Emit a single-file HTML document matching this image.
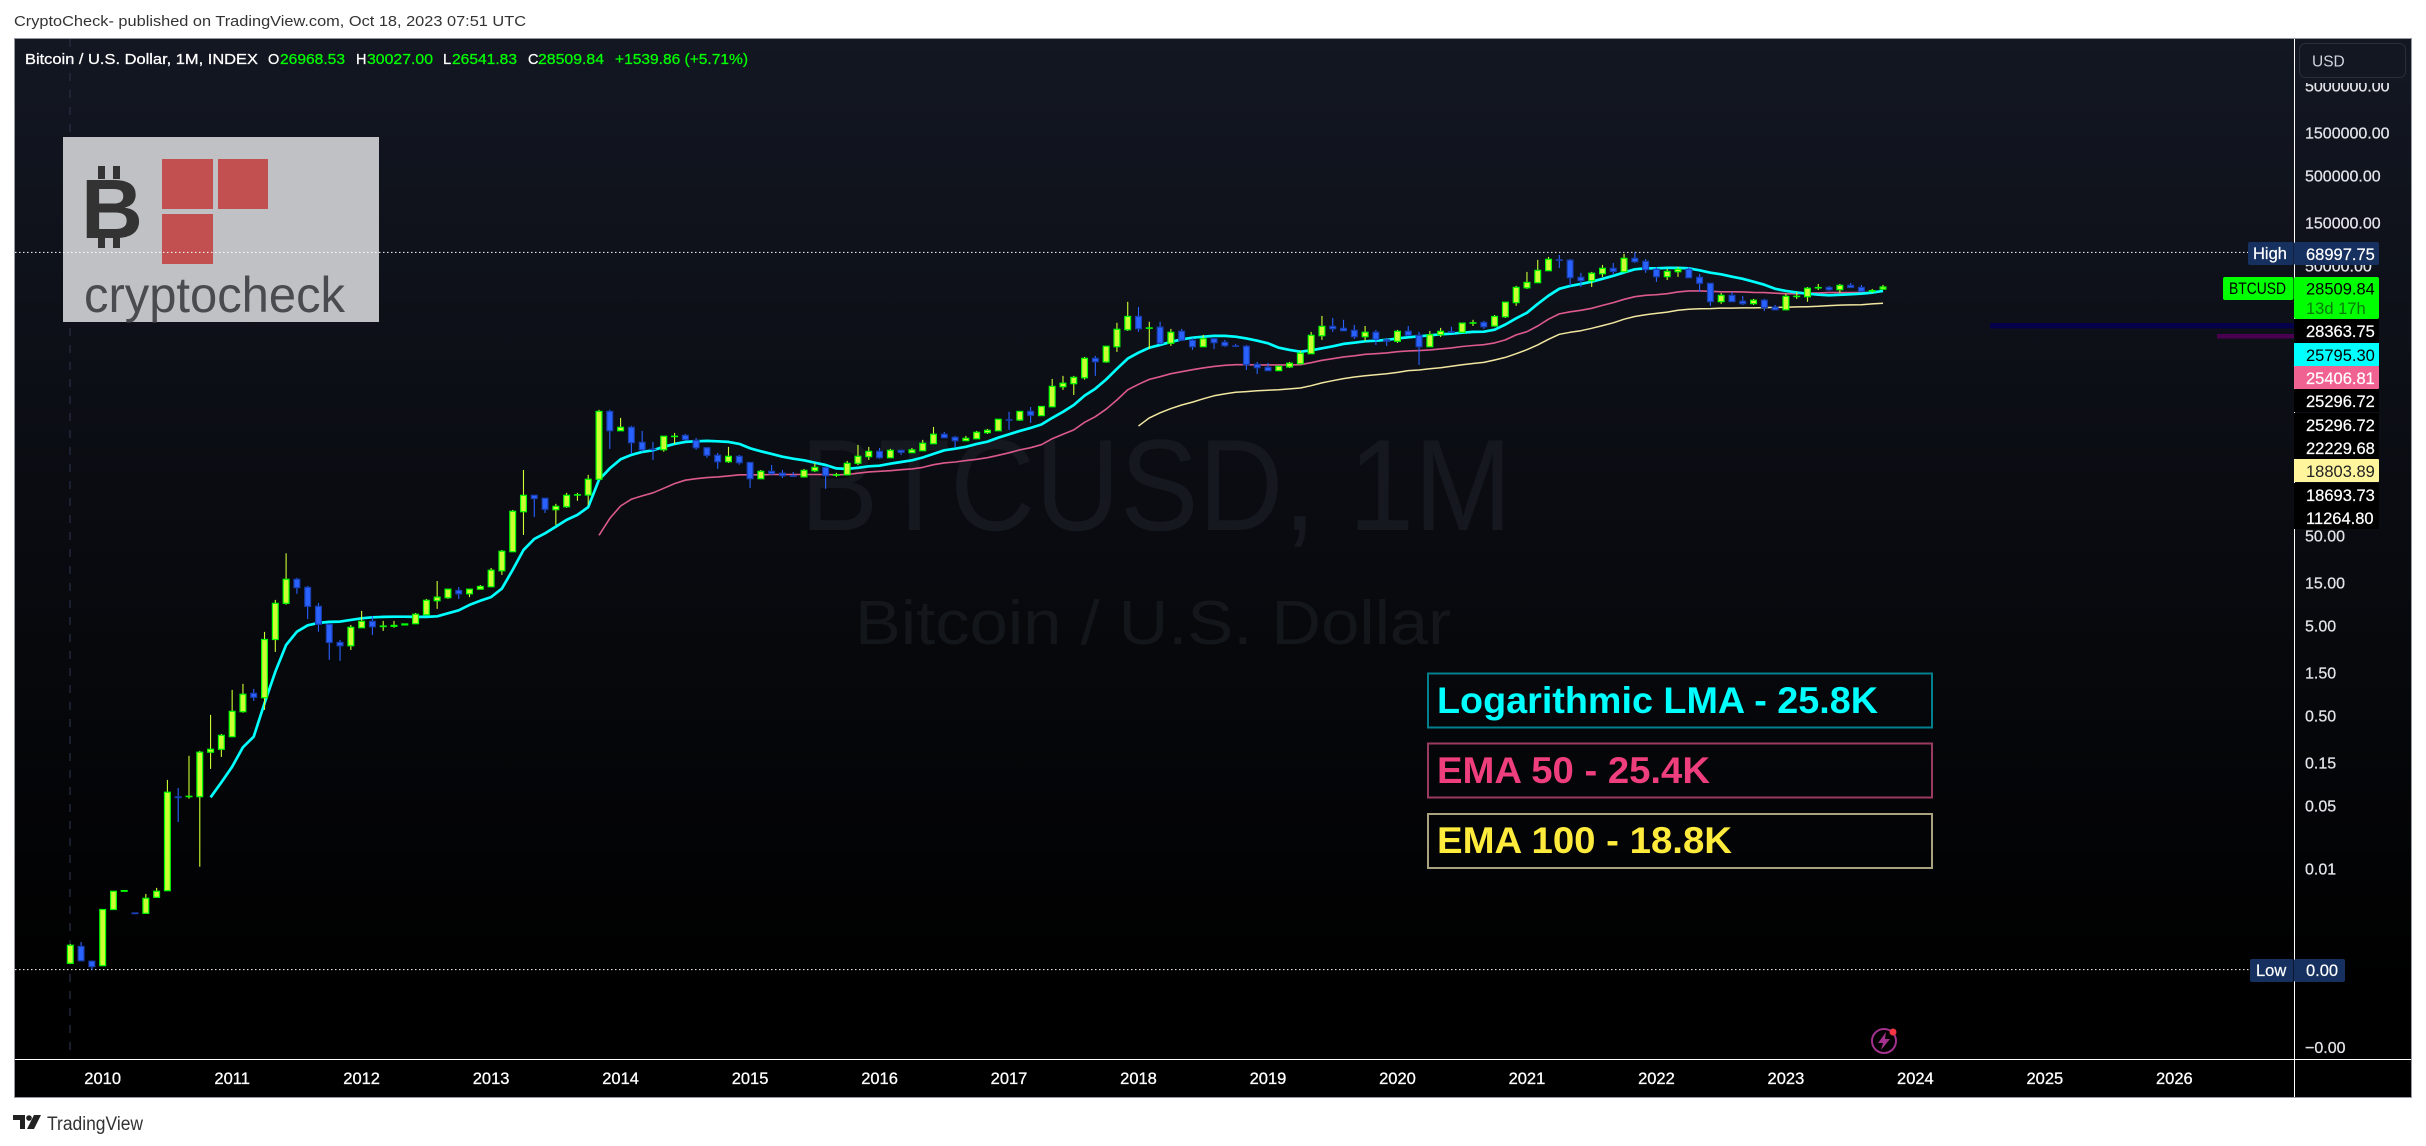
<!DOCTYPE html>
<html lang="en">
<head>
<meta charset="utf-8">
<title>Bitcoin / U.S. Dollar, 1M chart</title>
<style>
html,body{margin:0;padding:0;background:#fff;width:2426px;height:1146px;overflow:hidden}
svg{display:block}
text{font-family:"Liberation Sans",sans-serif}
.ax{font-size:16px;fill:#e4e5ea;stroke:#e4e5ea;stroke-width:.25}
.lb{font-size:16.5px;fill:#fff;stroke:#fff;stroke-width:.2}
.ohlc{font-size:14.5px;stroke-width:.25}
</style>
</head>
<body>
<svg id="chart" xmlns="http://www.w3.org/2000/svg" width="2426" height="1146" viewBox="0 0 2426 1146">
<defs>
<linearGradient id="bgGrad" x1="0" y1="0" x2="0" y2="1">
<stop offset="0" stop-color="#131722"/>
<stop offset="0.9" stop-color="#000"/>
<stop offset="1" stop-color="#000"/>
</linearGradient>
</defs>
<rect x="0" y="0" width="2426" height="1146" fill="#fff"/>
<text x="14" y="26" font-size="14.5" fill="#333" textLength="512" lengthAdjust="spacingAndGlyphs">CryptoCheck- published on TradingView.com, Oct 18, 2023 07:51 UTC</text>
<rect x="14.5" y="38.5" width="2397" height="1059" fill="url(#bgGrad)" stroke="#9598a1" stroke-width="1"/>

<g>
<text x="800" y="530" font-size="130" fill="#15181e" textLength="712" lengthAdjust="spacingAndGlyphs">BTCUSD, 1M</text>
<text x="855" y="644" font-size="62" fill="#13161b" textLength="596" lengthAdjust="spacingAndGlyphs">Bitcoin / U.S. Dollar</text>
</g>

<line x1="70" y1="39" x2="70" y2="1050" stroke="#2a2e45" stroke-width="1.2" stroke-dasharray="8 9"/>

<g>
<rect x="63" y="137" width="316" height="185" fill="#c0c1c4"/>
<rect x="98" y="166" width="7" height="13" fill="#333"/>
<rect x="113" y="166" width="7" height="13" fill="#333"/>
<rect x="98" y="236" width="7" height="12" fill="#333"/>
<rect x="113" y="236" width="7" height="12" fill="#333"/>
<text x="81" y="238" font-size="84" font-weight="700" fill="#333" textLength="62" lengthAdjust="spacingAndGlyphs">B</text>
<rect x="162" y="159" width="51" height="50" fill="#c25050"/>
<rect x="218" y="159" width="50" height="50" fill="#c25050"/>
<rect x="162" y="214" width="51" height="50" fill="#c25050"/>
<text x="84" y="312" font-size="50" fill="#4a4b50" textLength="261" lengthAdjust="spacingAndGlyphs">cryptocheck</text>
</g>

<line id="highLine" x1="15" x2="2248" stroke="#fff" stroke-width="1" stroke-dasharray="1.5 2.5"/>
<line id="lowLine" x1="15" x2="2250" stroke="#fff" stroke-width="1" stroke-dasharray="1.5 2.5"/>

<g id="lines"></g>
<g id="candles"></g>

<rect x="1990" y="323" width="304" height="5.5" fill="#05004a"/>
<rect x="2217" y="334" width="77" height="4.5" fill="#4a0050"/>

<g>
<rect x="1428" y="673.5" width="504" height="54" fill="none" stroke="#00808f" stroke-width="2"/>
<text x="1437" y="713" font-size="37" font-weight="700" fill="#00ffff" textLength="441" lengthAdjust="spacingAndGlyphs">Logarithmic LMA - 25.8K</text>
<rect x="1428" y="743.5" width="504" height="54" fill="none" stroke="#9a3a5f" stroke-width="2"/>
<text x="1437" y="783" font-size="37" font-weight="700" fill="#ef3e7c" textLength="273" lengthAdjust="spacingAndGlyphs">EMA 50 - 25.4K</text>
<rect x="1428" y="814" width="504" height="54" fill="none" stroke="#a8a27e" stroke-width="2"/>
<text x="1437" y="853" font-size="37" font-weight="700" fill="#ffeb3b" textLength="295" lengthAdjust="spacingAndGlyphs">EMA 100 - 18.8K</text>
</g>

<g>
<text class="ohlc" x="25" y="64" fill="#fff" stroke="#fff" textLength="233" lengthAdjust="spacingAndGlyphs">Bitcoin / U.S. Dollar, 1M, INDEX</text>
<text class="ohlc" x="268" y="64" fill="#fff" stroke="#fff">O</text>
<text class="ohlc" x="280" y="64" fill="#0f0" stroke="#0f0" textLength="65" lengthAdjust="spacingAndGlyphs">26968.53</text>
<text class="ohlc" x="356" y="64" fill="#fff" stroke="#fff">H</text>
<text class="ohlc" x="367" y="64" fill="#0f0" stroke="#0f0" textLength="66" lengthAdjust="spacingAndGlyphs">30027.00</text>
<text class="ohlc" x="443" y="64" fill="#fff" stroke="#fff">L</text>
<text class="ohlc" x="452" y="64" fill="#0f0" stroke="#0f0" textLength="65" lengthAdjust="spacingAndGlyphs">26541.83</text>
<text class="ohlc" x="528" y="64" fill="#fff" stroke="#fff">C</text>
<text class="ohlc" x="538" y="64" fill="#0f0" stroke="#0f0" textLength="66" lengthAdjust="spacingAndGlyphs">28509.84</text>
<text class="ohlc" x="615" y="64" fill="#0f0" stroke="#0f0" textLength="133" lengthAdjust="spacingAndGlyphs">+1539.86 (+5.71%)</text>
</g>

<g>
<circle cx="1884" cy="1041" r="12" fill="none" stroke="#a2328d" stroke-width="2"/>
<polygon points="1886,1032 1878,1043 1883,1043 1881,1050 1890,1039 1885,1039" fill="#a2328d"/>
<circle cx="1893" cy="1032" r="3.5" fill="#f23645"/>
</g>

<g id="priceTicks"></g>
<text class="ax" x="2305" y="1053">−0.00</text>

<line x1="2294.5" y1="39" x2="2294.5" y2="1097" stroke="#fff" stroke-width="1"/>
<rect x="15" y="1060" width="2396" height="37" fill="#000"/>
<line x1="15" y1="1059.5" x2="2411" y2="1059.5" stroke="#fff" stroke-width="1"/>
<line x1="2294.5" y1="1060" x2="2294.5" y2="1097" stroke="#fff" stroke-width="1"/>
<g id="yearTicks"></g>

<rect x="2296" y="39" width="115" height="44" fill="#131722"/>
<rect x="2299.5" y="43.5" width="106" height="34" rx="6" fill="#131722" stroke="#2a2e39" stroke-width="1"/>
<text x="2312" y="66.5" font-size="15.5" fill="#d1d4dc">USD</text>

<g>
<rect x="2248" y="242" width="45.5" height="23" rx="2" fill="#16305f"/>
<text class="lb" x="2253" y="259">High</text>
<rect x="2294" y="242" width="85" height="23" rx="2" fill="#16305f"/>
<text class="lb" x="2306" y="260">68997.75</text>

<rect x="2223" y="277" width="70.5" height="23" rx="2" fill="#00ff00"/>
<text x="2229" y="294" font-size="16.5" fill="#000" textLength="57" lengthAdjust="spacingAndGlyphs">BTCUSD</text>
<rect x="2294" y="277" width="85" height="42" rx="2" fill="#00ff00"/>
<text x="2306" y="294.5" font-size="16.5" fill="#000">28509.84</text>
<text x="2306" y="314" font-size="16.5" fill="#087a08">13d 17h</text>

<rect x="2294" y="319" width="85" height="24" fill="#000"/>
<text class="lb" x="2306" y="337">28363.75</text>
<rect x="2294" y="343" width="85" height="23" fill="#00ffff"/>
<text x="2306" y="361" font-size="16.5" fill="#000">25795.30</text>
<rect x="2294" y="366" width="85" height="23" rx="1" fill="#f06292"/>
<text class="lb" x="2306" y="384">25406.81</text>
<rect x="2294" y="389" width="85" height="23" fill="#000"/>
<text class="lb" x="2306" y="407">25296.72</text>
<rect x="2294" y="413" width="85" height="23" fill="#000"/>
<text class="lb" x="2306" y="431">25296.72</text>
<rect x="2294" y="436" width="85" height="23" fill="#000"/>
<text class="lb" x="2306" y="454">22229.68</text>
<rect x="2294" y="459" width="85" height="23" rx="1" fill="#fff59d"/>
<text x="2306" y="477" font-size="16.5" fill="#222">18803.89</text>
<rect x="2294" y="483" width="85" height="23" fill="#000"/>
<text class="lb" x="2306" y="501">18693.73</text>
<rect x="2294" y="506" width="85" height="23" fill="#000"/>
<text class="lb" x="2306" y="524">11264.80</text>

<rect x="2250" y="959" width="43.5" height="23" rx="2" fill="#16305f"/>
<text class="lb" x="2256" y="976">Low</text>
<rect x="2294" y="959" width="51" height="23" rx="2" fill="#16305f"/>
<text class="lb" x="2306" y="976">0.00</text>
</g>

<g>
<path d="M13 1115h12v14h-5v-9h-7z" fill="#222"/>
<circle cx="29" cy="1118" r="2.8" fill="#222"/>
<polygon points="34,1115 41,1115 34,1129 27,1129" fill="#222"/>
<text x="47" y="1130" font-size="19" fill="#333" textLength="96" lengthAdjust="spacingAndGlyphs">TradingView</text>
</g>
</svg>

<script>
const yearLabels = [2010,2011,2012,2013,2014,2015,2016,2017,2018,2019,2020,2021,2022,2023,2024,2025,2026];
const priceTickValues = [5000000,1500000,500000,150000,50000,50,15,5,1.5,0.5,0.15,0.05,0.01];
const opens = [
.00087,.00134,.00092,.00082,.00345,.0055,.00316,.00313,.00471,.00558,
.0615,.0620,.0618,.193,.208,.287,.544,.87,.778,3.45,
8.7,16.1,13.1,8.06,5.09,3.2,2.94,4.66,5.49,4.8,
4.83,5.01,5.17,6.5,9.3,10.05,12.1,11.1,12.5,13.3,
20,32.6,90.7,138,128,95.5,103,139,139,208,
1180,720,786,536,449,443,622,640,563,466,
384,326,374,320,211,255,243,227,221,259,
282,231,233,313,371,425,361,436,411,432,
517,658,609,558,587,685,720,953,947,1180,
1060,1330,2220,2400,2790,4590,4190,6180,9550,13400,
9950,10200,6750,9170,7280,6180,7580,6920,6310,6250,
3940,3650,3350,3680,4000,5170,8190,10400,9900,9400,
7980,8940,7360,7100,9170,8270,6180,8400,9070,8940,
11350,11500,10500,13300,19100,27900,31800,43200,57000,56600,
36500,33500,40000,45900,42100,59300,54900,44800,37100,42100,
44800,36500,31300,19600,23000,19800,18600,20300,17000,15900,
22300,22200,27800,28200,26600,29700,28200,25600,26968];
const highs = [
.00143,.0015,.00092,.00345,.0055,.0056,.00316,.00514,.006,.095,
.0774,.176,.2,.501,.308,.95,1.11,.975,4.19,9.5,
31.3,16.7,13.6,8.8,5.09,3.41,5.01,7.17,6.31,5.55,
5.55,5.14,6.81,9.75,15.4,12.5,13.2,12.5,13.9,21.5,
34.1,95,264,138,128,111,147,147,233,1230,
1230,1000,815,717,541,625,681,664,599,466,
409,476,388,320,264,300,264,251,271,316,
282,245,333,501,476,464,453,436,464,570,
794,699,631,631,717,755,965,1170,1180,1320,
1340,2710,2930,2930,4760,4890,6250,11400,19500,17100,
11700,11700,9750,9750,7740,8360,7580,7360,6640,6470,
4190,4090,3740,4190,5550,9030,13600,12900,12300,10800,
10500,9500,7740,9500,10500,9030,9260,10000,10300,11300,
12300,12000,13900,19300,29300,41900,57000,61500,64700,58400,
40900,41900,50100,52700,66400,68997,58400,47600,45300,47600,
47600,39800,31300,24500,25100,22700,21000,21000,18000,23900,
25100,28500,30800,29300,30800,31600,30000,27100,30027];
const lows = [
.00088,.00092,.00074,.00081,.00345,.0055,.0031,.00313,.00471,.00558,
.0324,.0587,.0103,.126,.171,.287,.53,.717,.57,2.51,
8.4,11.1,5.84,4.21,2.05,2.0,2.64,4.66,3.88,4.3,
4.66,5.01,5.17,6.5,7.55,9.75,9.75,10.2,12.5,13.3,
18,32.6,50.1,79.4,88,64.7,100,120,108,208,
453,720,398,421,341,421,514,573,443,361,
272,316,302,167,211,233,215,221,221,251,
163,221,233,300,341,351,361,388,411,432,
517,602,466,558,587,664,720,736,926,880,
1060,1330,2050,1800,2660,2930,4090,5410,9260,9030,
5840,6500,6310,7280,5700,6180,5840,6150,6150,3410,
3080,3350,3350,3590,4000,5170,7360,9030,9300,7550,
7170,6470,6310,6810,8270,3880,6180,7940,8940,8940,
10500,9750,10300,12900,17600,27100,31800,43200,46400,29300,
28500,28500,36900,38800,42100,52700,40900,32400,34100,36900,
36100,25100,17600,18500,19600,18000,18000,15400,15900,15900,
21000,19500,26400,25800,24500,28200,25500,24500,26541];
const closes = [
.00138,.00093,.0008,.00345,.0055,.0056,.0031,.00459,.0055,.0693,
.0604,.0625,.193,.208,.297,.549,.85,.786,3.45,8.7,
16.1,13,8.06,5.09,3.2,2.94,4.71,5.49,4.78,4.87,
4.95,5.14,6.58,9.4,10.2,12.5,11.1,12.5,13.4,20.3,
33,91.7,138,127,96.5,104,138,140,208,1180,
720,786,530,443,447,625,626,573,466,384,
326,374,318,211,255,240,228,224,261,282,
228,233,313,374,425,361,436,414,441,522,
658,602,558,593,692,728,965,947,1180,1070,
1340,2240,2430,2820,4590,4210,6250,9650,13400,9800,
10000,6750,8940,7280,6180,7580,6850,6340,6260,3900,
3610,3350,3740,4050,5220,8270,10400,9800,9300,7980,
8940,7470,7100,9170,8270,6180,8400,9170,8940,11300,
11400,10300,13400,19300,28200,32000,43600,57800,56700,36100,
33500,40500,45900,42500,59300,54400,44300,37100,42500,44800,
36100,31300,19600,23000,19600,18600,20300,16800,15900,22400,
22500,27600,28100,26600,29700,28200,25500,26000,28509];
const lmaFirstBar = 13;
const lmaValues = [
.0609,.0894,.133,.219,.287,.675,1.51,3.0,4.21,4.96,5.27,5.41,5.45,5.7,5.93,6.09,6.15,6.18,6.18,6.15,6.15,6.25,6.75,7.28,8.36,9.3,10.2,
12.7,20.5,34.1,45.3,52.2,61.8,73.6,83.6,102,205,275,347,388,419,436,478,514,541,549,555,549,541,514,459,425,398,371,352,338,318,300,275,271,279,290,294,310,324,338,363,398,436,455,478,514,544,602,658,717,774,845,
1000,1170,1390,1770,2110,2670,3510,4560,5300,6020,6470,6990,7470,7780,7980,8150,8150,7980,7650,7200,6750,6020,5700,5440,5630,5930,6250,6640,6850,7100,7200,7360,7650,7860,8060,8270,8500,8630,8840,9030,9070,9550,
10900,12800,14700,18500,22800,27200,29300,30800,32600,35100,37900,41400,44800,45900,45900,46400,46400,45900,43600,41100,39400,37100,35100,32600,30200,27200,25800,24800,24000,23400,23000,23300,23600,24000,24700,25795];
const ema50FirstBar = 49;
const ema50Values = [
49.6,76.5,105,125,136,147,165,186,203,211,217,221,227,233,233,233,235,235,235,235,235,235,233,235,243,251,255,259,266,271,282,302,316,324,335,347,361,384,409,441,466,504,587,658,736,894,
1030,1250,1580,2050,2360,2680,2870,3100,3260,3430,3590,3730,3840,3900,3900,3880,3880,3880,3880,3900,4110,4360,4550,4760,4900,5090,5170,5270,5440,5550,5600,5700,5840,5990,6210,6380,6500,6810,7360,8360,9070,
10500,12500,14300,15100,15700,16500,17800,19100,20800,22200,23000,23400,24000,25100,25800,25800,25500,25200,25200,25100,24800,24700,24300,24000,23900,24300,24500,24700,24700,24700,24700,24800,25406];
const ema100FirstBar = 99;
const ema100Values = [
813,1000,1140,1270,1390,1500,1630,1760,1850,1930,1960,2000,2030,2060,2100,2150,2280,2450,2590,2730,2850,2940,3020,3100,3200,3350,3410,3510,3610,3740,3890,4020,4140,4400,4700,5170,5730,6470,7470,8500,8940,9300,9900,
10600,11400,12500,13400,14000,14500,15000,15700,16100,16300,16400,16600,16600,16700,16700,16800,16900,17000,17100,17200,17400,17700,17900,18000,18100,18500,18804];

const NS = 'http://www.w3.org/2000/svg';
function xAt(barIndex){ return 70.3 + 10.79 * barIndex; }
function yAt(price){ return 687.9 - 90 * Math.log10(price); }
function make(tag, attrs){
  const el = document.createElementNS(NS, tag);
  for (const k in attrs) el.setAttribute(k, attrs[k]);
  return el;
}

const candleLayer = document.getElementById('candles');
const lineLayer = document.getElementById('lines');
const tickLayer = document.getElementById('priceTicks');
const yearLayer = document.getElementById('yearTicks');

document.getElementById('highLine').setAttribute('y1', yAt(Math.max.apply(null, highs)));
document.getElementById('highLine').setAttribute('y2', yAt(Math.max.apply(null, highs)));
document.getElementById('lowLine').setAttribute('y1', yAt(Math.min.apply(null, lows)));
document.getElementById('lowLine').setAttribute('y2', yAt(Math.min.apply(null, lows)));

function drawLine(values, firstBar, color, width, name){
  const pts = values.map(function(v, k){ return xAt(firstBar + k).toFixed(1) + ',' + yAt(v).toFixed(1); }).join(' ');
  const pl = make('polyline', {points: pts, fill: 'none', stroke: color, 'stroke-width': width, 'stroke-linejoin': 'round'});
  
  
  lineLayer.appendChild(pl);
}
drawLine(ema100Values, ema100FirstBar, '#f2e7a0', 1.5, 'ema-100-line');
drawLine(ema50Values, ema50FirstBar, '#dc5a8c', 1.6, 'ema-50-line');
drawLine(lmaValues, lmaFirstBar, '#00ffff', 2.7, 'logarithmic-lma-line');

opens.forEach(function(open, i){
  const close = closes[i];
  const up = close >= open;
  const cx = xAt(i);
  const top = yAt(Math.max(open, close));
  const bottom = yAt(Math.min(open, close));
  const g = make('g', {});
  
  
  const wick = make('line', {x1: cx, x2: cx, y1: yAt(highs[i]), y2: yAt(lows[i]), stroke: up ? '#ccff33' : '#2962ff', 'stroke-width': 1.1});
  
  
  g.appendChild(wick);
  const body = make('rect', {x: cx - 2.9, y: top, width: 5.8, height: Math.max(bottom - top, 0.4), fill: up ? '#ccff33' : '#2962ff', stroke: up ? '#00ff00' : '#1a3fb0', 'stroke-width': 1.2});
  
  
  g.appendChild(body);
  candleLayer.appendChild(g);
});

priceTickValues.forEach(function(value){
  const t = make('text', {x: 2305, y: yAt(value) + 6.5, 'class': 'ax'});
  
  
  t.textContent = value.toFixed(2);
  tickLayer.appendChild(t);
});

yearLabels.forEach(function(year, k){
  const t = make('text', {x: xAt(3 + 12 * k), y: 1084, 'text-anchor': 'middle', 'font-size': 16.5, fill: '#fff', stroke: '#fff', 'stroke-width': 0.3});
  
  
  t.textContent = year;
  yearLayer.appendChild(t);
});
</script>
</body>
</html>
